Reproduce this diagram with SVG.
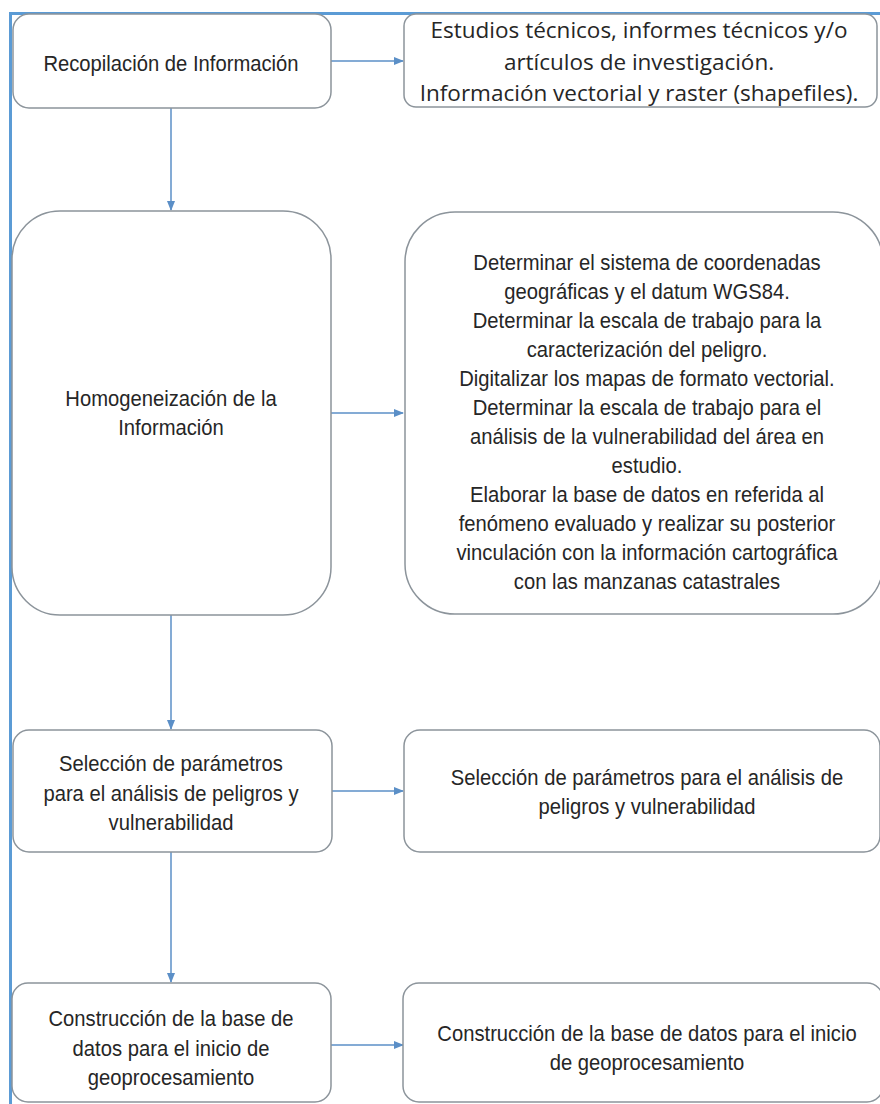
<svg xmlns="http://www.w3.org/2000/svg" width="880" height="1104" viewBox="0 0 880 1104">
<style>
.box{fill:#ffffff;stroke:#8c949b;stroke-width:1.5}
.t{font-family:"Liberation Sans",Arial,sans-serif;font-size:22px;fill:#262626;text-anchor:middle}
.c{font-family:"Open Sans",Lato,sans-serif;font-size:22.5px;fill:#262626;text-anchor:middle}
.conn{stroke:#5b8fc7;stroke-width:1.5;fill:none;marker-end:url(#ah)}
.frame{stroke:#5b9bd5;stroke-width:3;fill:none}
</style>
<defs>
<marker id="ah" markerWidth="10" markerHeight="8" refX="9" refY="4" orient="auto" markerUnits="userSpaceOnUse">
<path d="M0,0 L10,4 L0,8 Z" fill="#5b8fc7"/>
</marker>
</defs>
<rect width="880" height="1104" fill="#ffffff"/>
<path class="frame" d="M10.5,1104 L10.5,13.5 L880,13.5"/>
<g id="connectors">
<line class="conn" x1="331" y1="61" x2="403" y2="61"/>
<line class="conn" x1="171" y1="108" x2="171" y2="210"/>
<line class="conn" x1="331" y1="413" x2="403" y2="413"/>
<line class="conn" x1="171" y1="615" x2="171" y2="729"/>
<line class="conn" x1="331" y1="791" x2="403" y2="791"/>
<line class="conn" x1="171" y1="852" x2="171" y2="982"/>
<line class="conn" x1="331" y1="1045" x2="403" y2="1045"/>
</g>
<g id="n1">
<rect class="box" x="13" y="14" width="318" height="94" rx="16"/>
<text class="t" transform="translate(171,71) scale(0.92,1)">Recopilación de Información</text>
</g>
<g id="n2">
<rect class="box" x="404" y="14" width="473" height="93" rx="12"/>
<text class="c" x="639" y="38">Estudios técnicos, informes técnicos y/o</text>
<text class="c" x="639" y="70">artículos de investigación.</text>
<text class="c" x="639" y="101">Información vectorial y raster (shapefiles).</text>
</g>
<g id="n3">
<rect class="box" x="12" y="211" width="319" height="404" rx="48"/>
<text class="t" transform="translate(171,406) scale(0.92,1)">Homogeneización de la</text>
<text class="t" transform="translate(171,435) scale(0.92,1)">Información</text>
</g>
<g id="n4">
<rect class="box" x="405" y="212" width="478" height="402" rx="50"/>
<text class="t" transform="translate(647,270) scale(0.92,1)">Determinar el sistema de coordenadas</text>
<text class="t" transform="translate(647,299) scale(0.92,1)">geográficas y el datum WGS84.</text>
<text class="t" transform="translate(647,328) scale(0.92,1)">Determinar la escala de trabajo para la</text>
<text class="t" transform="translate(647,357) scale(0.92,1)">caracterización del peligro.</text>
<text class="t" transform="translate(647,386) scale(0.92,1)">Digitalizar los mapas de formato vectorial.</text>
<text class="t" transform="translate(647,415) scale(0.92,1)">Determinar la escala de trabajo para el</text>
<text class="t" transform="translate(647,444) scale(0.92,1)">análisis de la vulnerabilidad del área en</text>
<text class="t" transform="translate(647,473) scale(0.92,1)">estudio.</text>
<text class="t" transform="translate(647,502) scale(0.92,1)">Elaborar la base de datos en referida al</text>
<text class="t" transform="translate(647,531) scale(0.92,1)">fenómeno evaluado y realizar su posterior</text>
<text class="t" transform="translate(647,560) scale(0.92,1)">vinculación con la información cartográfica</text>
<text class="t" transform="translate(647,589) scale(0.92,1)">con las manzanas catastrales</text>
</g>
<g id="n5">
<rect class="box" x="13" y="730" width="319" height="122" rx="16"/>
<text class="t" transform="translate(171,771) scale(0.92,1)">Selección de parámetros</text>
<text class="t" transform="translate(171,801) scale(0.92,1)">para el análisis de peligros y</text>
<text class="t" transform="translate(171,830) scale(0.92,1)">vulnerabilidad</text>
</g>
<g id="n6">
<rect class="box" x="404" y="730" width="476" height="122" rx="16"/>
<text class="t" transform="translate(647,785) scale(0.92,1)">Selección de parámetros para el análisis de</text>
<text class="t" transform="translate(647,814) scale(0.92,1)">peligros y vulnerabilidad</text>
</g>
<g id="n7">
<rect class="box" x="12" y="983" width="319" height="119" rx="16"/>
<text class="t" transform="translate(171,1026) scale(0.92,1)">Construcción de la base de</text>
<text class="t" transform="translate(171,1056) scale(0.92,1)">datos para el inicio de</text>
<text class="t" transform="translate(171,1085) scale(0.92,1)">geoprocesamiento</text>
</g>
<g id="n8">
<rect class="box" x="403" y="983" width="480" height="119" rx="16"/>
<text class="t" transform="translate(647,1041) scale(0.92,1)">Construcción de la base de datos para el inicio</text>
<text class="t" transform="translate(647,1070) scale(0.92,1)">de geoprocesamiento</text>
</g>
</svg>
